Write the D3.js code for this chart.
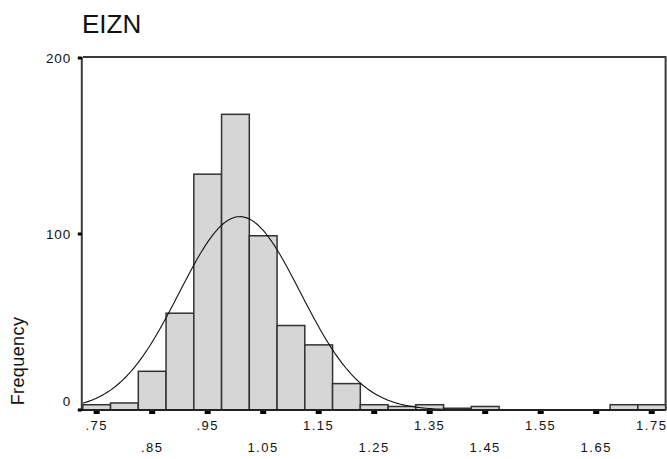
<!DOCTYPE html>
<html>
<head>
<meta charset="utf-8">
<script src="https://cdn.jsdelivr.net/npm/d3@7"></script>
<style>
  html, body { margin: 0; padding: 0; background: #fff; }
  svg { display: block; }
  text { font-family: "Liberation Sans", Arial, sans-serif; fill: #111; }
</style>
</head>
<body>
<svg id="chart" width="667" height="459"></svg>
<script>
// Histogram of EIZN with a fitted normal curve
const binCenters = [0.75, 0.80, 0.85, 0.90, 0.95, 1.00, 1.05, 1.10, 1.15, 1.20, 1.25,
                    1.30, 1.35, 1.40, 1.45, 1.50, 1.55, 1.60, 1.65, 1.70, 1.75];
const counts     = [3, 4, 22, 55, 134, 168, 99, 48, 37, 15, 3,
                    2, 3, 1, 2, 0, 0, 0, 0, 3, 3];
const binWidth = 0.05;
const xTicks = [0.75, 0.85, 0.95, 1.05, 1.15, 1.25, 1.35, 1.45, 1.55, 1.65, 1.75];
const xTickLabels = [".75", ".85", ".95", "1.05", "1.15", "1.25", "1.35", "1.45", "1.55", "1.65", "1.75"];
const yTicks = [0, 100, 200];
const fitMean = 1.008;
const fitSd = 0.1093;

const svg = d3.select("#chart");
const plotL = 82.8, plotR = 665.6, plotT = 58, plotB = 410;

const x = d3.scaleLinear()
  .domain([binCenters[0] - binWidth / 2, binCenters[binCenters.length - 1] + binWidth / 2])
  .range([plotL, plotR]);
const y = d3.scaleLinear().domain([0, 200]).range([plotB, plotT]);

// title
svg.append("text")
  .attr("x", 82).attr("y", 33)
  .attr("font-size", 26)
  .text("EIZN");

// plot frame (top and right edges)
svg.append("path")
  .attr("d", `M${plotL},${plotT - 1}H${plotR}V${plotB}`)
  .attr("fill", "none").attr("stroke", "#3a3a3a").attr("stroke-width", 2);

// bars
svg.append("g").selectAll("rect")
  .data(binCenters.map((c, i) => ({ c, n: counts[i] })).filter(d => d.n > 0))
  .join("rect")
  .attr("x", d => x(d.c - binWidth / 2))
  .attr("y", d => y(d.n))
  .attr("width", d => x(d.c + binWidth / 2) - x(d.c - binWidth / 2))
  .attr("height", d => y(0) - y(d.n))
  .attr("fill", "#d6d6d6")
  .attr("stroke", "#333")
  .attr("stroke-width", 1.5);

// normal curve scaled to the histogram
const total = d3.sum(counts);
const pdf = v => total * binWidth / (fitSd * Math.sqrt(2 * Math.PI)) *
  Math.exp(-0.5 * ((v - fitMean) / fitSd) ** 2);
const curvePts = d3.range(0, 401).map(i => {
  const v = x.domain()[0] + (x.domain()[1] - x.domain()[0]) * i / 400;
  return [v, pdf(v)];
});
svg.append("path")
  .datum(curvePts)
  .attr("d", d3.line().x(d => x(d[0])).y(d => y(d[1])))
  .attr("fill", "none").attr("stroke", "#111").attr("stroke-width", 1.1);

// axes lines
svg.append("line")
  .attr("x1", plotL - 1).attr("x2", plotL - 1).attr("y1", plotT - 1).attr("y2", plotB + 1)
  .attr("stroke", "#3a3a3a").attr("stroke-width", 2);
svg.append("line")
  .attr("x1", plotL - 2).attr("x2", plotR).attr("y1", plotB).attr("y2", plotB)
  .attr("stroke", "#222").attr("stroke-width", 2);

// x ticks and labels (alternating rows)
const xg = svg.append("g");
xg.selectAll("rect")
  .data(xTicks)
  .join("rect")
  .attr("x", d => x(d) - 3).attr("y", plotB + 1)
  .attr("width", 6).attr("height", 3)
  .attr("fill", "#000");
xg.selectAll("text")
  .data(xTicks)
  .join("text")
  .attr("x", d => x(d))
  .attr("y", (d, i) => i % 2 === 0 ? 430 : 452)
  .attr("text-anchor", "middle")
  .attr("font-size", 13)
  .attr("letter-spacing", 1.5)
  .text((d, i) => xTickLabels[i]);

// y ticks and labels
const yg = svg.append("g");
yg.selectAll("rect")
  .data(yTicks)
  .join("rect")
  .attr("x", plotL - 5).attr("y", d => y(d) - 1.5)
  .attr("width", 4).attr("height", 3)
  .attr("fill", "#000");
yg.selectAll("text")
  .data(yTicks)
  .join("text")
  .attr("x", 71)
  .attr("y", d => Math.min(y(d), plotB - 9) + 5)
  .attr("text-anchor", "end")
  .attr("font-size", 13.5)
  .attr("letter-spacing", 0.8)
  .text(d => d);

// y axis title
svg.append("text")
  .attr("transform", "translate(24,361) rotate(-90)")
  .attr("text-anchor", "middle")
  .attr("font-size", 18)
  .attr("letter-spacing", 0.4)
  .text("Frequency");
</script>
</body>
</html>
